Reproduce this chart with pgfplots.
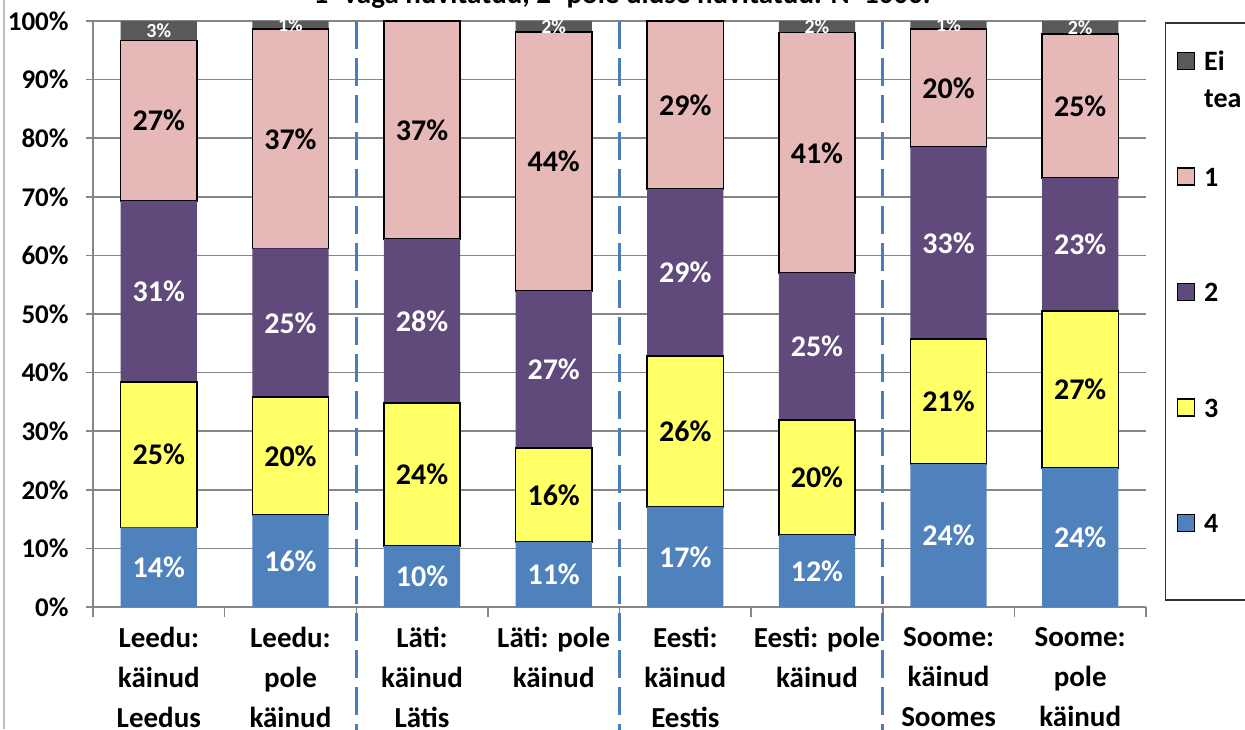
\documentclass[border=0pt]{standalone}
\usepackage{pgfplots}
\pgfplotsset{compat=1.18}
\usepackage{pgfplotstable}
\usepackage{fontspec}
\setmainfont{Carlito}
\definecolor{cblue}{HTML}{4F81BD}
\definecolor{cyel}{HTML}{FFFF66}
\definecolor{cpur}{HTML}{604A7B}
\definecolor{cpink}{HTML}{E6B9B8}
\definecolor{cgray}{HTML}{595959}
\definecolor{gridc}{HTML}{868686}
\definecolor{dashc}{HTML}{4A7EBB}

\pgfplotstableread{
x v4 v3 v2 v1 v0
0 13.6 24.8 30.9 27.4 3.3
1 15.7 20.1 25.4 37.4 1.4
2 10.4 24.4 28.0 37.2 0
3 11.1 16.0 26.8 44.2 1.9
4 17.1 25.7 28.5 28.7 0
5 12.3 19.6 25.1 41.0 2.0
6 24.4 21.3 32.8 20.1 1.4
7 23.7 26.8 22.7 24.6 2.2
}\data

\pgfplotsset{
  sq legend/.style={legend image code/.code={\draw[##1] (0bp,5.5bp) rectangle (8.5bp,14bp);}},
}

\begin{document}
\begin{tikzpicture}[x=1bp,y=1bp]
\begin{axis}[
  at={(46.5bp,-303.5bp)}, anchor=south west,
  scale only axis, width=526.5bp, height=293bp,
  ybar stacked, bar width=0.58,
  xmin=-0.5, xmax=7.5, ymin=0, ymax=100,
  axis x line*=bottom, axis y line*=left,
  axis line style={gridc, line width=0.75bp},
  ytick={0,10,...,100},
  yticklabels={0\%,10\%,20\%,30\%,40\%,50\%,60\%,70\%,80\%,90\%,100\%},
  ymajorgrids, grid style={gridc, line width=0.75bp},
  xtick={0,...,7},
  xticklabels={{Leedu:\\käinud\\Leedus},{Leedu:\\pole\\käinud},{Läti:\\käinud\\Lätis},{Läti: pole\\käinud},{Eesti:\\käinud\\Eestis},{Eesti: pole\\käinud},{Soome:\\käinud\\Soomes},{Soome:\\pole\\käinud}},
  minor xtick={-0.5,0.5,...,7.5},
  tick align=outside,
  major x tick style={draw=none},
  minor x tick style={gridc, line width=0.75bp},
  y tick style={gridc, line width=0.75bp},
  major tick length=3.5bp, minor tick length=5bp,
  xticklabel style={font=\fontsize{14.5bp}{20bp}\selectfont\bfseries, align=center, anchor=north, inner sep=0pt, yshift=-6.5bp},
  yticklabel style={font=\fontsize{13.5bp}{16bp}\selectfont\bfseries, anchor=east, inner sep=0pt, xshift=-8.5bp},
  /pgf/number format/assume math mode=true,
  clip=false,
  point meta=rawy,
  nodes near coords={\pgfmathfloatifflags{\pgfplotspointmeta}{0}{}{\pgfmathprintnumber[fixed,precision=0]{\pgfplotspointmeta}\%}},
  every node near coord/.append style={anchor=center, font=\fontsize{15bp}{16bp}\selectfont\bfseries},
  legend style={at={(1.018,0.998)}, anchor=north west, draw=black!80, line width=0.75bp, fill=white,
    inner xsep=5.5bp, inner ysep=14bp, row sep=28.25bp,
    font=\fontsize{14bp}{18.5bp}\selectfont\bfseries,
    nodes={inner sep=0pt, text height=10bp, text depth=19.5bp},
    /tikz/every odd column/.append style={column sep=4.5bp}},
  legend cell align=left,
  reverse legend,
]
\addplot[fill=cblue, draw=none, sq legend,
  every node near coord/.append style={text=white}]
  table[x=x,y=v4]{\data};
\addlegendentry{4}
\addplot[fill=cyel, draw=black, line width=0.75bp, sq legend,
  every node near coord/.append style={text=black}]
  table[x=x,y=v3]{\data};
\addlegendentry{3}
\addplot[fill=cpur, draw=none, sq legend,
  every node near coord/.append style={text=white}]
  table[x=x,y=v2]{\data};
\addlegendentry{2}
\addplot[fill=cpink, draw=black, line width=0.75bp, sq legend,
  every node near coord/.append style={text=black}]
  table[x=x,y=v1]{\data};
\addlegendentry{1}
\addplot[fill=cgray, draw=none, sq legend,
  every node near coord/.append style={text=white, font=\fontsize{10bp}{12bp}\selectfont\bfseries}]
  table[x=x,y=v0]{\data};
\addlegendentry{\vtop{\hbox{Ei}\hbox{tea}}}
\draw[dashc, line width=1.5bp, dash pattern=on 14bp off 4.5bp] (axis cs:1.5,100) -- (axis cs:1.5,-25);
\draw[dashc, line width=1.5bp, dash pattern=on 14bp off 4.5bp] (axis cs:3.5,100) -- (axis cs:3.5,-25);
\draw[dashc, line width=1.5bp, dash pattern=on 14bp off 4.5bp] (axis cs:5.5,100) -- (axis cs:5.5,-25);
\end{axis}
\node[font=\fontsize{14.5bp}{16bp}\selectfont\bfseries, anchor=base] at (311,-1.8) {1- väga huvitatud, 2- pole üldse huvitatud. N=1000.};
\draw[black!25, line width=0.75bp] (2,0) -- (2,-364.5);
\pgfresetboundingbox
\path[use as bounding box] (0,0) rectangle (622.5,-364.5);
\end{tikzpicture}
\end{document}
